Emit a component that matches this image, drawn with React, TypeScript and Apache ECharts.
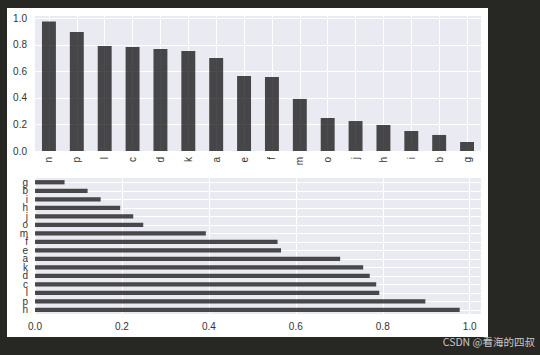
import React, { useEffect, useRef } from "react";
import * as echarts from "echarts";

const categories = ["n", "p", "l", "c", "d", "k", "a", "e", "f", "m", "o", "j", "h", "i", "b", "g"];
const values = [0.977, 0.898, 0.792, 0.785, 0.77, 0.755, 0.702, 0.566, 0.558, 0.393, 0.249, 0.226, 0.196, 0.151, 0.121, 0.068];
const axisMax = 1.026;
const watermark = "CSDN @看海的四叔";

export default function App() {
  const ref = useRef<HTMLDivElement>(null);
  useEffect(() => {
    if (!ref.current) return;
    const chart = echarts.init(ref.current, null, { renderer: "svg" });
    const labelStyle = { color: "#333333", fontSize: 10, fontFamily: "Liberation Sans, Arial, sans-serif" };
    const fmt = (v: number) => (Math.abs(v * 5 - Math.round(v * 5)) < 1e-6 ? v.toFixed(1) : "");
    const split = { show: true, lineStyle: { color: "#ffffff", width: 1 } };
    chart.setOption({
      animation: false,
      backgroundColor: "#272723",
      graphic: [
        { type: "rect", shape: { x: 7, y: 8, width: 481, height: 329 }, style: { fill: "#ffffff" }, z: -10 },
        {
          type: "text",
          right: 5,
          top: 336,
          style: { text: watermark, fill: "#c8c8c8", fontSize: 10.5, fontFamily: "Noto Sans CJK SC, sans-serif" },
        },
      ],
      grid: [
        { left: 35, top: 15, width: 446, height: 136, show: true, backgroundColor: "#EAEAF2", borderWidth: 0 },
        { left: 35, top: 178, width: 446, height: 136, show: true, backgroundColor: "#EAEAF2", borderWidth: 0 },
      ],
      xAxis: [
        {
          gridIndex: 0,
          type: "category",
          data: categories,
          axisLine: { show: false },
          axisTick: { show: false },
          splitLine: { ...split, alignWithLabel: true },
          axisLabel: { ...labelStyle, rotate: 90, margin: 6, interval: 0 },
        },
        {
          gridIndex: 1,
          type: "value",
          min: 0,
          max: axisMax,
          interval: 0.2,
          axisLine: { show: false },
          axisTick: { show: false },
          splitLine: split,
          axisLabel: { ...labelStyle, margin: 7, formatter: fmt, showMaxLabel: false },
        },
      ],
      yAxis: [
        {
          gridIndex: 0,
          type: "value",
          min: 0,
          max: axisMax,
          interval: 0.2,
          axisLine: { show: false },
          axisTick: { show: false },
          splitLine: split,
          axisLabel: { ...labelStyle, margin: 8, formatter: fmt, showMaxLabel: false },
        },
        {
          gridIndex: 1,
          type: "category",
          data: categories,
          axisLine: { show: false },
          axisTick: { show: false },
          splitLine: { ...split, alignWithLabel: true },
          axisLabel: { ...labelStyle, fontSize: 10, margin: 7, interval: 0, lineHeight: 8 },
        },
      ],
      series: [
        {
          type: "bar",
          xAxisIndex: 0,
          yAxisIndex: 0,
          data: values,
          barWidth: "50%",
          itemStyle: { color: "rgba(0,0,0,0.7)" },
        },
        {
          type: "bar",
          xAxisIndex: 1,
          yAxisIndex: 1,
          data: values,
          barWidth: "50%",
          itemStyle: { color: "rgba(0,0,0,0.7)" },
        },
      ],
    });
    return () => chart.dispose();
  }, []);
  return <div ref={ref} style={{ position: "fixed", left: 0, top: 0, width: 540, height: 355 }} />;
}
